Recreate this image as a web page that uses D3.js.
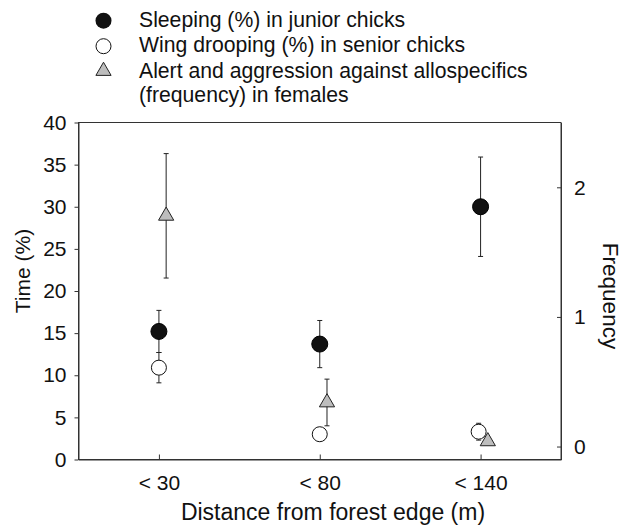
<!DOCTYPE html>
<html><head><meta charset="utf-8">
<script src="https://cdn.jsdelivr.net/npm/d3@7"></script>
<style>
html,body{margin:0;padding:0;background:#fff;}
text{font-family:"Liberation Sans",Arial,Helvetica,sans-serif;fill:#111;}
</style></head>
<body><svg id="chart" width="627" height="526"></svg>
<script>
// ---- data ----
const categories = ["< 30", "< 80", "< 140"];
const sleepingMean = [15.2, 13.7, 30.0];
const sleepingErr  = [2.5, 2.8, 5.9];
const droopingMean = [10.9, 3.0, 3.3];
const droopingErr  = [1.8, 0.6, 1.0];
const alertMean    = [1.78, 0.34, 0.04];
const alertErr     = [0.48, 0.18, 0.02];
const leftTicks  = [0, 5, 10, 15, 20, 25, 30, 35, 40];
const rightTicks = [0, 1, 2];
const legendLabels = [
  ["Sleeping (%) in junior chicks"],
  ["Wing drooping (%) in senior chicks"],
  ["Alert and aggression against allospecifics", "(frequency) in females"]
];

// ---- layout ----
const svg = d3.select("#chart");
const L = 78.5, R = 561, T = 122.5, B = 459.5;
const x = d3.scaleLinear().domain([0.5, 3.5]).range([L, R]);
const yL = d3.scaleLinear().domain([0, 40]).range([B, T]);
const yR = d3.scaleLinear().domain([-0.1, 2.5]).range([B, T]);
const axisColor = "#333";
const tickFont = 21, titleFont = 23, legendFont = 21.2;

// frame
svg.append("rect").attr("x", L).attr("y", T).attr("width", R - L).attr("height", B - T)
  .attr("fill", "none").attr("stroke", axisColor).attr("stroke-width", 1);

// left axis
const gl = svg.append("g").attr("transform", `translate(${L},0)`)
  .call(d3.axisLeft(yL).tickValues(leftTicks).tickSize(4).tickPadding(8).tickSizeOuter(0));
// right axis
const gr = svg.append("g").attr("transform", `translate(${R},0)`)
  .call(d3.axisRight(yR).tickValues(rightTicks).tickFormat(d3.format("d"))
    .tickSize(-4).tickPadding(13).tickSizeOuter(0));
// bottom axis
const gb = svg.append("g").attr("transform", `translate(0,${B})`)
  .call(d3.axisBottom(x).tickValues([1, 2, 3]).tickFormat((d, i) => categories[i])
    .tickSize(-5).tickPadding(16).tickSizeOuter(0));
[gl, gr, gb].forEach(g => {
  g.select(".domain").attr("stroke", axisColor);
  g.selectAll(".tick line").attr("stroke", axisColor);
  g.selectAll(".tick text").attr("font-size", tickFont).attr("font-family", "Liberation Sans, Arial, sans-serif").attr("fill", "#111");
});

// axis titles
svg.append("text").attr("x", 333).attr("y", 520).attr("text-anchor", "middle")
  .attr("font-size", titleFont).text("Distance from forest edge (m)");
svg.append("text").attr("transform", "translate(30,271) rotate(-90)").attr("text-anchor", "middle")
  .attr("font-size", 21).text("Time (%)");
svg.append("text").attr("transform", "translate(603,296) rotate(90)").attr("text-anchor", "middle")
  .attr("font-size", 22.5).text("Frequency");

// helpers
function errorBars(means, errs, yScale, dxs) {
  const g = svg.append("g").attr("stroke", "#222").attr("stroke-width", 1);
  means.forEach((m, i) => {
    const cx = x(i + 1 + dxs[i]);
    const y1 = yScale(m + errs[i]), y0 = yScale(m - errs[i]);
    g.append("line").attr("x1", cx).attr("x2", cx).attr("y1", y1).attr("y2", y0);
    g.append("line").attr("x1", cx - 2.5).attr("x2", cx + 2.5).attr("y1", y1).attr("y2", y1);
    g.append("line").attr("x1", cx - 2.5).attr("x2", cx + 2.5).attr("y1", y0).attr("y2", y0);
  });
}
const triPath = d3.symbol().type(d3.symbolTriangle).size(100)();

const sleepOffset = [0, 0, 0];
const droopOffset = [0, 0, -0.012];
const alertOffset = [0.045, 0.045, 0.045];

errorBars(sleepingMean, sleepingErr, yL, sleepOffset);
errorBars(droopingMean, droopingErr, yL, droopOffset);
errorBars(alertMean, alertErr, yR, alertOffset);

// markers
svg.append("g").selectAll("circle").data(sleepingMean).join("circle")
  .attr("cx", (d, i) => x(i + 1 + sleepOffset[i])).attr("cy", d => yL(d)).attr("r", 8)
  .attr("fill", "#111").attr("stroke", "#000");
svg.append("g").selectAll("circle").data(droopingMean).join("circle")
  .attr("cx", (d, i) => x(i + 1 + droopOffset[i])).attr("cy", d => yL(d)).attr("r", 7.5)
  .attr("fill", "#fff").attr("stroke", "#111").attr("stroke-width", 1);
svg.append("g").selectAll("path").data(alertMean).join("path")
  .attr("d", triPath)
  .attr("transform", (d, i) => `translate(${x(i + 1 + alertOffset[i])},${yR(d)})`)
  .attr("fill", "#bdbdbd").attr("stroke", "#222").attr("stroke-width", 1);

// legend
const lg = svg.append("g");
const rowY = [20.7, 46.2, 71];
lg.append("circle").attr("cx", 103.5).attr("cy", rowY[0]).attr("r", 8).attr("fill", "#111");
lg.append("circle").attr("cx", 103.5).attr("cy", rowY[1]).attr("r", 7.5).attr("fill", "#fff").attr("stroke", "#111");
lg.append("path").attr("d", triPath).attr("transform", `translate(103.5,${rowY[2]})`)
  .attr("fill", "#bdbdbd").attr("stroke", "#222");
const baselines = [[27], [52.3], [77.6, 101.5]];
legendLabels.forEach((lines, i) => {
  lines.forEach((t, j) => {
    lg.append("text").attr("x", 139).attr("y", baselines[i][j]).attr("font-size", legendFont).text(t);
  });
});
</script></body></html>
